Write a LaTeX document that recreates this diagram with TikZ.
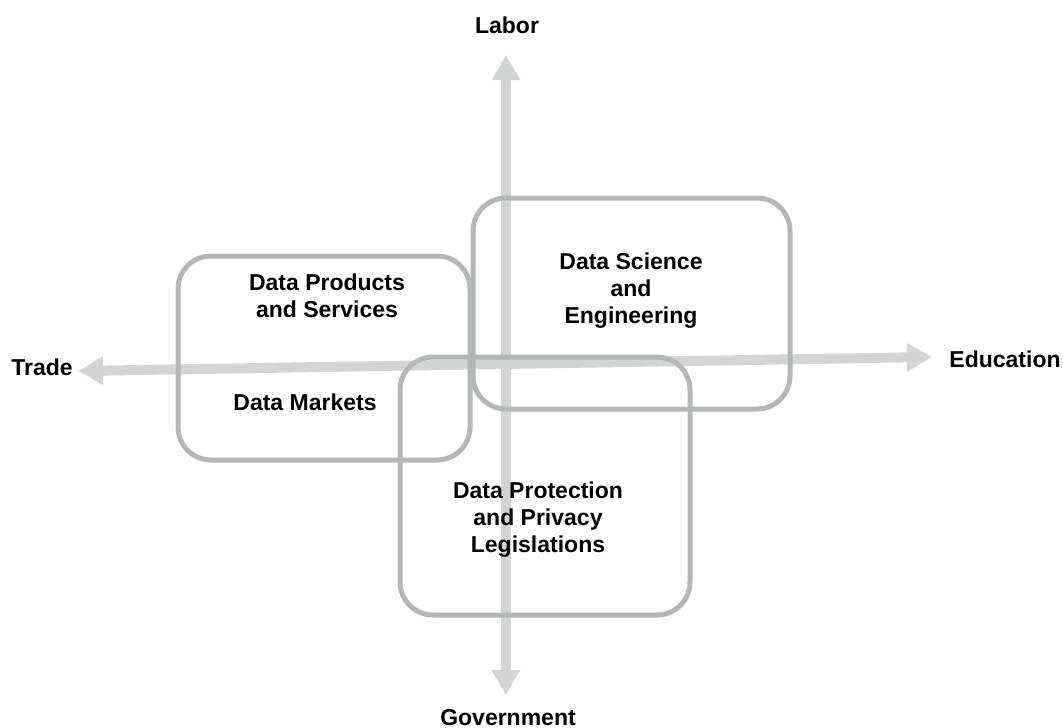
\documentclass[tikz,border=0pt]{standalone}
\usepackage{fontspec}
\setmainfont{Liberation Sans}
\usetikzlibrary{arrows.meta}
\definecolor{boxgray}{RGB}{180,183,183}
\definecolor{axisgray}{RGB}{211,213,213}
\tikzset{
  axis/.style={draw=axisgray, line width=10pt,
    {Triangle[width=27pt,length=25pt]}-{Triangle[width=27pt,length=25pt]}},
  areabox/.style={draw=boxgray, line width=5pt, rounded corners=33pt, inner sep=0pt},
  lbl/.style={font=\bfseries\fontsize{23}{27}\selectfont, inner sep=0pt, align=center, anchor=base}
}
\begin{document}
\begin{tikzpicture}[x=1pt,y=-1pt]
\useasboundingbox (0,0) rectangle (1063,728);
% axis labels
\node[lbl] (labor) at (507,34) {Labor};
\node[lbl] (gov) at (508,725) {Government};
\node[lbl] (trade) at (42,375) {Trade};
\node[lbl] (edu) at (1005,367) {Education};
% axes
\coordinate (vtop) at (506,55);
\coordinate (vbot) at (506,695);
\coordinate (hleft) at (78,371);
\coordinate (hright) at (932,357);
\draw[axis] (vbot) -- (vtop);
\draw[axis] (hleft) -- (hright);
% boxes
\node[areabox, minimum width=292pt, minimum height=204pt] (b1) at (324,358) {};
\node[areabox, minimum width=317pt, minimum height=211pt] (b2) at (631.5,303.5) {};
\node[areabox, minimum width=290pt, minimum height=258pt] (b3) at (545,486) {};
% texts (base anchor = last line's baseline)
\node[lbl] (dps) at (327,317) {Data Products\\and Services};
\node[lbl] (dm) at (305,410) {Data Markets};
\node[lbl] (dse) at (631,323) {Data Science\\and\\Engineering};
\node[lbl] (dpp) at (538,552) {Data Protection\\and Privacy\\Legislations};
\end{tikzpicture}
\end{document}
